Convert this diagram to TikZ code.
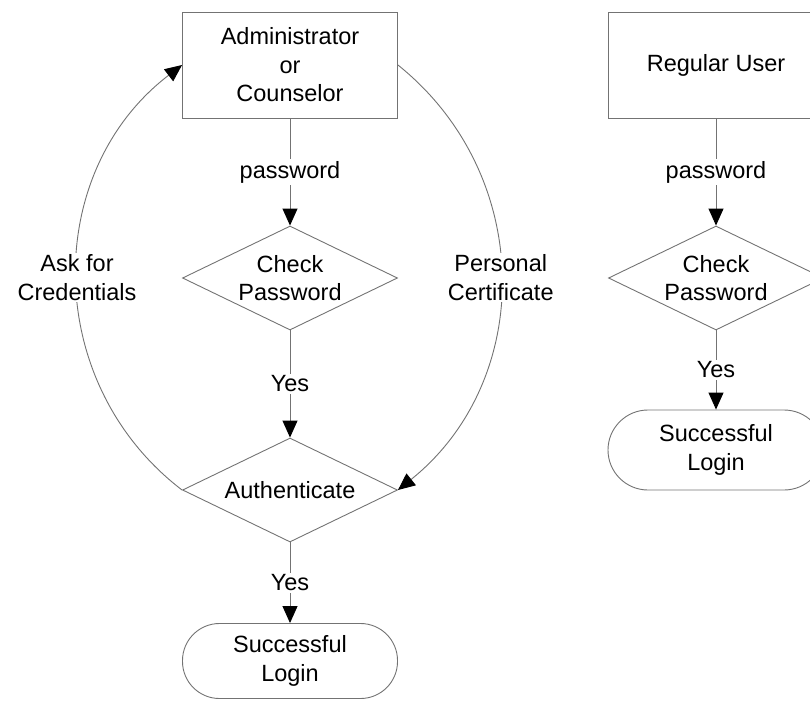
\documentclass[tikz,border=0pt]{standalone}
\usepackage{fontspec}
\setmainfont{Liberation Sans}
\usetikzlibrary{shapes.geometric,arrows.meta}

\tikzset{
  line/.style={draw=black!55, line width=0.9pt},
  box/.style={line, rectangle, minimum width=215pt, minimum height=106pt,
    inner sep=0pt, align=center},
  decision/.style={line, diamond, aspect=2.1, minimum width=215pt,
    minimum height=104pt, inner sep=0pt, align=center},
  terminal/.style={line, rectangle, rounded corners=37pt, minimum width=215pt,
    minimum height=75pt, inner sep=0pt, align=center},
  flow/.style={line, -{Triangle[length=17pt,width=15pt,color=black]}},
  lbl/.style={fill=white, inner sep=2pt, align=center},
  every node/.style={font=\fontsize{23.5}{28.5}\selectfont}
}

\begin{document}
\begin{tikzpicture}[x=1pt, y=-1pt]
  \useasboundingbox (0,0) rectangle (810,701);
  \clip (0,0) rectangle (810,701);

  % privileged users
  \node[box]      (admin) at (290,65)  {Administrator\\or\\Counselor};
  \node[decision] (cpA)   at (290,278) {Check\\Password};
  \node[decision] (auth)  at (290,490) {Authenticate};
  \node[terminal] (okA)   at (290,661) {Successful\\Login};

  \draw[flow] (admin.south) -- node[lbl] {password} (cpA.north);
  \draw[flow] (cpA.south)   -- node[lbl] {Yes} (auth.north);
  \draw[flow] (auth.south)  -- node[lbl] {Yes} (okA.north);

  \draw[flow] (auth.west) .. controls +(-140,-107) and +(-140,107) ..
    node[lbl] {Ask for\\Credentials} (admin.west);
  \draw[flow] (admin.east) .. controls +(137,110) and +(137,-110) ..
    node[lbl] {Personal\\Certificate} (auth.east);

  % regular users
  \node[box]      (user) at (716,65)  {Regular User};
  \node[decision] (cpB)  at (716,278) {Check\\Password};
  \node[terminal, minimum width=216pt, minimum height=80pt, rounded corners=40pt]
                  (okB)  at (716,450) {Successful\\Login};

  \draw[flow] (user.south) -- node[lbl] {password} (cpB.north);
  \draw[flow] (cpB.south)  -- node[lbl] {Yes} (okB.north);
\end{tikzpicture}
\end{document}
